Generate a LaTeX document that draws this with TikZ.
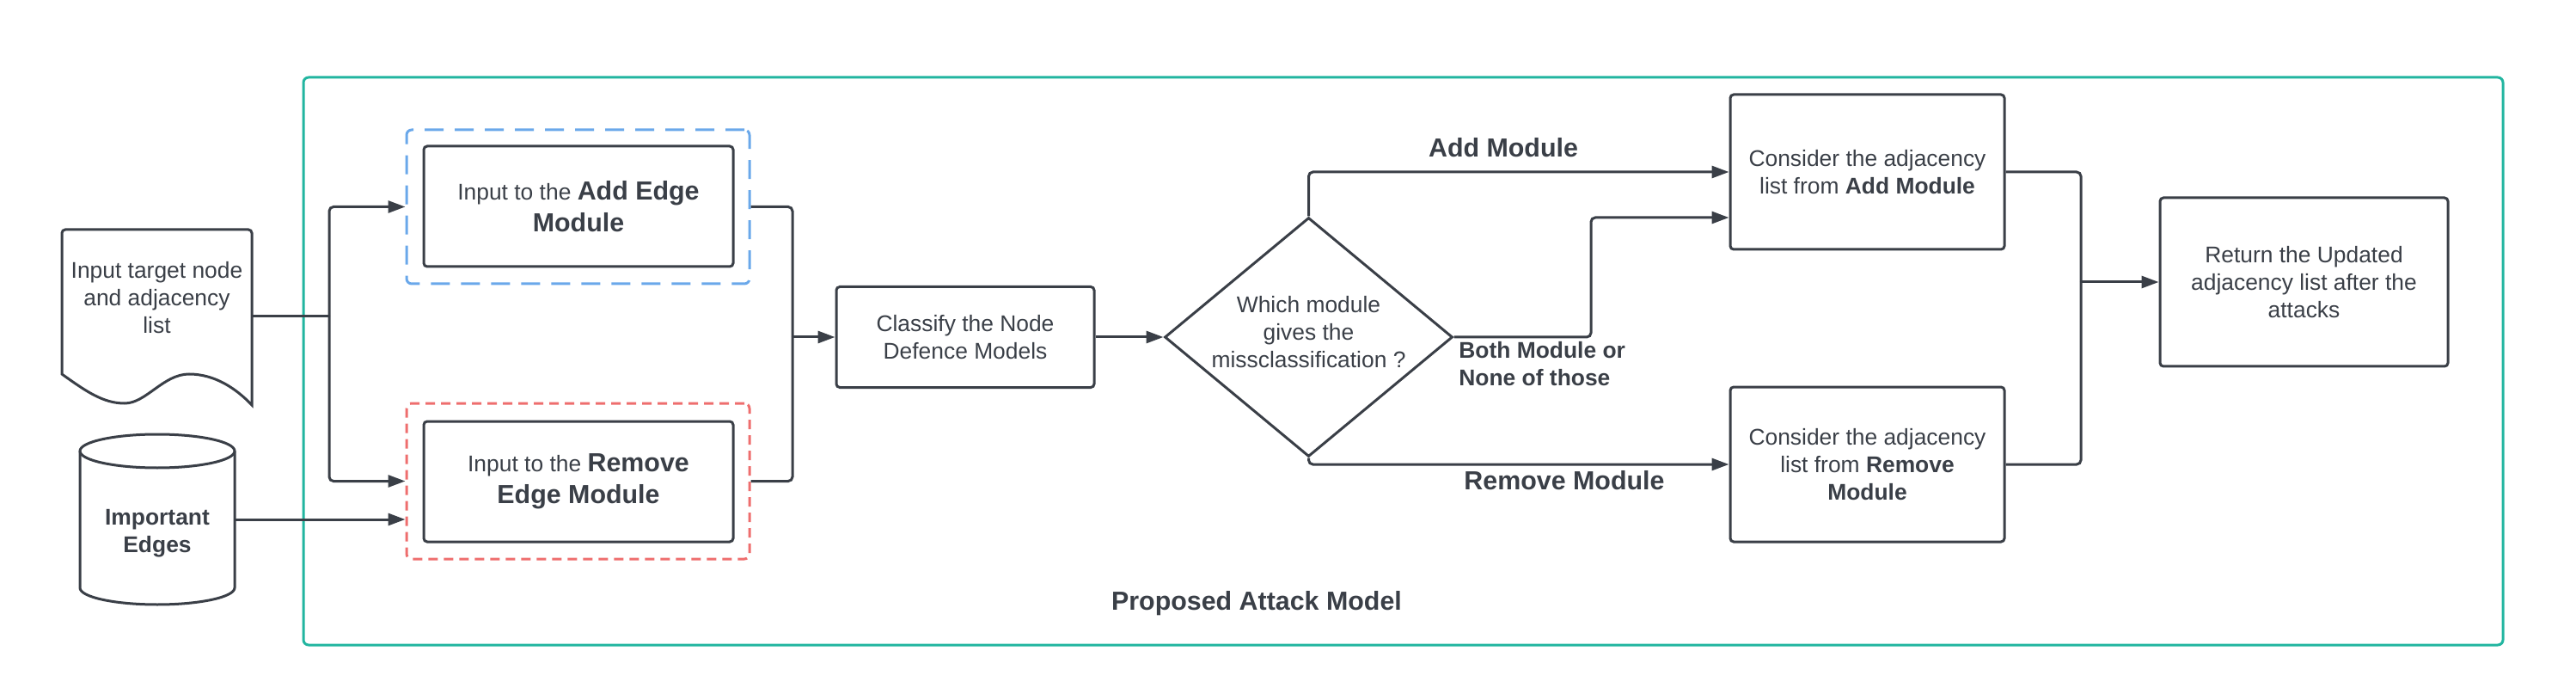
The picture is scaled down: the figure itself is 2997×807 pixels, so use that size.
\documentclass[tikz,border=0pt]{standalone}
\usepackage{fontspec}
\setmainfont{Liberation Sans}
\usetikzlibrary{arrows.meta,shapes.geometric,calc}
\definecolor{ink}{HTML}{3A3F47}
\definecolor{framec}{HTML}{22B5A0}
\definecolor{bluedash}{HTML}{6AA8EA}
\definecolor{reddash}{HTML}{EE6E6E}
\newcommand\bodyfont{\fontsize{13.2pt}{16pt}\selectfont}
\newcommand\bigfont{\fontsize{15.2pt}{18.5pt}\selectfont}
\tikzset{
  ln/.style={draw=ink, line width=1.5pt, rounded corners=2.5pt},
  arr/.style={ln, -{Triangle[length=10pt,width=7pt]}},
  box/.style={draw=ink, line width=1.5pt, rounded corners=2pt, align=center, inner sep=0pt, font=\bodyfont, text=ink},
  bluebox/.style={draw=bluedash, line width=1.5pt, rounded corners=3pt, dash pattern=on 11pt off 6.5pt, inner sep=0pt},
  redbox/.style={draw=reddash, line width=1.5pt, rounded corners=3pt, dash pattern=on 5.5pt off 3.5pt, inner sep=0pt},
  txt/.style={font=\bodyfont, align=center, text=ink},
  lbl/.style={font=\bigfont\bfseries, text=ink},
}
\begin{document}
\begin{tikzpicture}[x=0.5pt,y=-0.5pt]
\useasboundingbox (0,0) rectangle (2997,807);

% frame
\node[draw=framec, line width=1.5pt, rounded corners=3pt, minimum width=1279.5pt, minimum height=330pt, inner sep=0pt] (frame) at (1632.5,420) {};

% document shape
\draw[ink, line width=1.5pt, fill=white] (72,435) [rounded corners=2pt] -- (72,267) -- (293,267) [sharp corners] -- (293,471)
  .. controls (275,452) and (250,435) .. (220,435)
  .. controls (190,435) and (170,469) .. (145,469)
  .. controls (120,469) and (100,455) .. (72,435) -- cycle;
\node[txt] (doc) at (182.5,346) {Input target node\\and adjacency\\list};
\coordinate (docR) at (293,368);

% cylinder
\draw[ink, line width=1.5pt, fill=white] (93,524.5) -- (93,683.5) arc[start angle=180,end angle=360,x radius=45pt,y radius=9.75pt] -- (273,524.5);
\draw[ink, line width=1.5pt] (183,524.5) ellipse[x radius=45pt, y radius=9.75pt];
\node[txt] (cyl) at (183,620) {\bfseries Important\\\bfseries Edges};
\coordinate (cylR) at (273,604);

% dashed groups
\node[bluebox, minimum width=199.5pt, minimum height=89.5pt] (addg) at (672.5,240.5) {};
\node[box, minimum width=180pt, minimum height=70pt, font=\bigfont] (addin) at (673,240) {{\bodyfont Input to the }\textbf{Add Edge}\\\textbf{Module}};
\node[redbox, minimum width=199.5pt, minimum height=90.5pt] (remg) at (672.5,559.5) {};
\node[box, minimum width=180pt, minimum height=70pt, font=\bigfont] (remin) at (673,560) {{\bodyfont Input to the }\textbf{Remove}\\\textbf{Edge Module}};

% classify
\node[box, minimum width=150pt, minimum height=58.5pt] (cls) at (1123,392) {Classify the Node\\Defence Models};

% diamond
\node[draw=ink, line width=1.5pt, diamond, minimum width=167.5pt, minimum height=139pt, inner sep=0pt] (dia) at (1522.5,392) {};
\node[txt] (diat) at (1522.5,386) {Which module\\gives the\\missclassification ?};

% consider boxes
\node[box, minimum width=159.5pt, minimum height=90pt] (addc) at (2172.5,200) {Consider the adjacency\\list from \textbf{Add Module}};
\node[box, minimum width=159.5pt, minimum height=90pt] (remc) at (2172.5,540) {Consider the adjacency\\list from \textbf{Remove}\\\textbf{Module}};

% return box
\node[box, minimum width=167.5pt, minimum height=98pt] (ret) at (2680.5,328) {Return the Updated\\adjacency list after the\\attacks};

% labels
\node[lbl] (lAdd) at (1749,172) {Add Module};
\node[font=\bodyfont\bfseries, text=ink, align=left, anchor=west, inner sep=0pt] (lBoth) at (1697,423) {Both Module or\\None of those};
\node[lbl] (lRem) at (1820,559) {Remove Module};
\node[lbl] (title) at (1462,702) {Proposed Attack Model};

% junctions
\coordinate (j1) at (383,368);
\coordinate (j2) at (922,392);
\coordinate (j3) at (2421,328);
\coordinate (k) at (1851,253);
\coordinate (a2) at ($(addc.west)+(0,53)$);

% connectors
\draw[ln] (docR) -- (j1);
\draw[arr] (j1) |- (addg.west);
\draw[arr] (j1) |- (remg.west);
\draw[arr] (cylR) -- (cylR -| remg.west);
\draw[ln] (addg.east) -| (j2);
\draw[ln] (remg.east) -| (j2);
\draw[arr] (j2) -- (cls.west);
\draw[arr] (cls.east) -- (dia.west);
\draw[arr] (dia.north) |- (addc.west);
\draw[arr] (dia.east) -| (k) -- (a2);
\draw[arr] (dia.south) |- (remc.west);
\draw[ln] (addc.east) -| (j3);
\draw[ln] (remc.east) -| (j3);
\draw[arr] (j3) -- (ret.west);
\end{tikzpicture}
\end{document}
